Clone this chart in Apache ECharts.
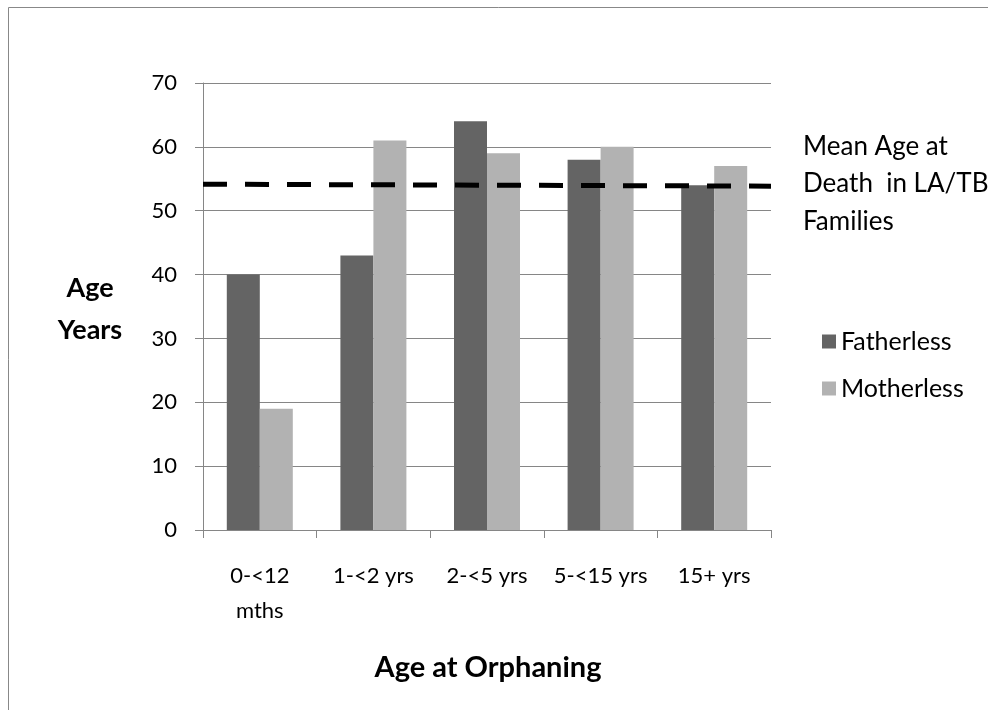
<!DOCTYPE html>
<html>
<head>
<meta charset="utf-8">
<script src="https://cdn.jsdelivr.net/npm/echarts@6/dist/echarts.min.js"></script>
<style>
  html, body { margin: 0; padding: 0; background: #fff; }
  #chart { width: 988px; height: 710px; }
</style>
</head>
<body>
<div id="chart"></div>
<script>
// Age at orphaning categories and mean parental age at death (years)
const categories = ['0-<12\nmths', '1-<2 yrs', '2-<5 yrs', '5-<15 yrs', '15+ yrs'];
const fatherless = [40, 43, 64, 58, 54];
const motherless = [19, 61, 59, 60, 57];
// Reference line: mean age at death in LA/TB families (start, end)
const meanLine = [[0, 54.15], [1, 53.85]];
const meanLabel = ['Mean Age at', 'Death  in LA/TB', 'Families'];
const yTicks = { min: 0, max: 70, interval: 10 };

const FONT = 'Lato, "Open Sans", sans-serif';
const chart = echarts.init(document.getElementById('chart'), null, { renderer: 'canvas' });

chart.setOption({
  animation: false,
  backgroundColor: '#ffffff',
  textStyle: { fontFamily: FONT, color: '#000' },
  grid: { left: 203, top: 83, right: 217, bottom: 180, containLabel: false },
  legend: {
    data: ['Fatherless', 'Motherless'],
    orient: 'vertical',
    left: 817,
    top: 324,
    itemWidth: 14,
    itemHeight: 14,
    itemGap: 22,
    icon: 'rect',
    textStyle: { fontFamily: FONT, fontSize: 25, lineHeight: 25, color: '#000' }
  },
  xAxis: [
    {
      type: 'category',
      data: categories,
      boundaryGap: true,
      axisLine: { lineStyle: { color: '#868686', width: 1 } },
      axisTick: { show: true, length: 8, lineStyle: { color: '#868686' } },
      axisLabel: {
        fontFamily: FONT, fontSize: 22, color: '#000',
        margin: 28, lineHeight: 35, interval: 0, align: 'center'
      }
    },
    { type: 'value', min: 0, max: 1, show: false }
  ],
  yAxis: {
    type: 'value',
    min: yTicks.min,
    max: yTicks.max,
    interval: yTicks.interval,
    axisLine: { show: true, lineStyle: { color: '#868686', width: 1 } },
    axisTick: { show: true, length: 8, lineStyle: { color: '#868686' } },
    axisLabel: { fontFamily: FONT, fontSize: 22, color: '#000', margin: 26 },
    splitLine: { show: true, lineStyle: { color: '#868686', width: 1 } }
  },
  series: [
    {
      name: 'Fatherless', type: 'bar', data: fatherless,
      barWidth: 33, barGap: '0%',
      itemStyle: { color: '#646464' }
    },
    {
      name: 'Motherless', type: 'bar', data: motherless,
      barWidth: 33, barGap: '0%',
      itemStyle: { color: '#b2b2b2' }
    },
    {
      name: 'Mean', type: 'line', xAxisIndex: 1, data: meanLine,
      symbol: 'none', z: 5,
      lineStyle: { color: '#000', width: 5, type: [24, 18] }
    }
  ],
  graphic: [
    {
      type: 'rect', silent: true,
      shape: { x: 8.5, y: 7.5, width: 1200, height: 1000 },
      style: { fill: null, stroke: '#888', lineWidth: 1 }
    },
    {
      type: 'text', silent: true,
      style: {
        x: 90, y: 309, text: 'Age\nYears', fontFamily: FONT, fontSize: 27,
        fontWeight: 'bold', fill: '#000', lineHeight: 42,
        align: 'center', verticalAlign: 'middle'
      }
    },
    {
      type: 'text', silent: true,
      style: {
        x: 803, y: 184, text: meanLabel.join('\n'), fontFamily: FONT, fontSize: 26,
        fill: '#000', lineHeight: 37.5, align: 'left', verticalAlign: 'middle'
      }
    },
    {
      type: 'text', silent: true,
      style: {
        x: 488, y: 668, text: 'Age at Orphaning', fontFamily: FONT, fontSize: 29,
        fontWeight: 'bold', fill: '#000', align: 'center', verticalAlign: 'middle'
      }
    }
  ]
});
</script>
</body>
</html>
